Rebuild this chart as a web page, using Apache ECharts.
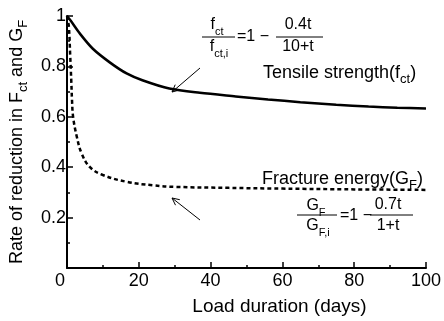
<!DOCTYPE html>
<html>
<head>
<meta charset="utf-8">
<script src="https://cdn.jsdelivr.net/npm/echarts@6/dist/echarts.min.js"></script>
<style>
  html, body { margin: 0; padding: 0; background: #fff; }
  #chart { width: 444px; height: 321px; }
</style>
</head>
<body>
<div id="chart"></div>
<script>
// values
const tensileDays = [0, 1, 3.6, 7.2, 12, 16.6, 21, 28.5, 37, 47, 56, 65, 75, 84, 92, 100]
const tensileRate = [1, 0.982, 0.93, 0.87, 0.815, 0.772, 0.745, 0.712, 0.695, 0.681, 0.669, 0.658, 0.648, 0.641, 0.636, 0.633]
const fractureDays = [0, 0.5, 0.9, 1.2, 1.4, 1.7, 2.7, 4.1, 6.4, 10, 16.6, 24, 30, 45, 60, 80, 100]
const fractureRate = [1, 0.96, 0.84, 0.74, 0.665, 0.6, 0.523, 0.454, 0.4, 0.369, 0.342, 0.328, 0.322, 0.318, 0.315, 0.312, 0.31]

const FONT = 'Liberation Sans'

function pairs (xs, ys) {
  return xs.map((x, i) => [x, ys[i]])
}

// base text + lowered subscript
function richStyle (size) {
  return {
    b: { fontSize: size, fontFamily: FONT, color: '#000', lineHeight: size + 4, verticalAlign: 'top' },
    s: { fontSize: size - 5, fontFamily: FONT, color: '#000', lineHeight: size - 5, verticalAlign: 'bottom' }
  }
}

function txt (text, x, y, align, size) {
  size = size || 16
  return {
    type: 'text',
    x: x,
    y: y,
    style: {
      text: text,
      fill: '#000',
      font: size + 'px ' + FONT,
      align: align || 'center',
      verticalAlign: 'middle',
      rich: richStyle(size)
    }
  }
}

function bar (x1, x2, y) {
  return { type: 'line', shape: { x1: x1, y1: y, x2: x2, y2: y }, style: { stroke: '#000', lineWidth: 1 } }
}

function arrow (x1, y1, x2, y2) {
  const a = Math.atan2(y1 - y2, x1 - x2)
  const len = 8
  const spread = 0.45
  return [
    { type: 'line', shape: { x1: x1, y1: y1, x2: x2, y2: y2 }, style: { stroke: '#000', lineWidth: 1 } },
    {
      type: 'polyline',
      shape: {
        points: [
          [x2 + len * Math.cos(a + spread), y2 + len * Math.sin(a + spread)],
          [x2, y2],
          [x2 + len * Math.cos(a - spread), y2 + len * Math.sin(a - spread)]
        ]
      },
      style: { stroke: '#000', lineWidth: 1, fill: null }
    }
  ]
}

const chart = echarts.init(document.getElementById('chart'))
const option = {
  animation: false,
  backgroundColor: '#fff',
  grid: {
    left: 67,
    right: 16,
    top: 16,
    bottom: 45
  },
  xAxis: {
    type: 'value',
    min: 0,
    max: 100,
    interval: 20,
    name: 'Load duration (days)',
    nameLocation: 'middle',
    nameGap: 29,
    nameTextStyle: { fontSize: 19, fontFamily: FONT, color: '#000', padding: [0, 0, 0, 66] },
    axisLine: { lineStyle: { color: '#000', width: 2 } },
    axisTick: { inside: true, length: 6, lineStyle: { color: '#000', width: 1.5 } },
    minorTick: { show: true, splitNumber: 2, length: 3, lineStyle: { color: '#000', width: 1.5 } },
    axisLabel: {
      fontSize: 18,
      fontFamily: FONT,
      color: '#000',
      margin: 4,
      formatter: v => (v === 0 ? '{z|0}' : String(v)),
      rich: { z: { fontSize: 18, fontFamily: FONT, color: '#000', padding: [0, 14, 0, 0] } }
    },
    splitLine: { show: false }
  },
  yAxis: {
    type: 'value',
    min: 0,
    max: 1,
    interval: 0.2,
    name: '{b|Rate of reduction in F}{s|ct}{b| and G}{s|F}',
    nameLocation: 'middle',
    nameGap: 34,
    nameTextStyle: {
      fontSize: 18,
      fontFamily: FONT,
      color: '#000',
      rich: richStyle(18)
    },
    axisLine: { lineStyle: { color: '#000', width: 2 } },
    axisTick: { inside: true, length: 6, lineStyle: { color: '#000', width: 1.5 } },
    minorTick: { show: true, splitNumber: 2, length: 3, lineStyle: { color: '#000', width: 1.5 } },
    axisLabel: {
      fontSize: 18,
      fontFamily: FONT,
      color: '#000',
      margin: 1,
      formatter: v => (v === 0 ? '' : String(Math.round(v * 10) / 10))
    },
    splitLine: { show: false }
  },
  series: [
    {
      name: 'Tensile strength',
      type: 'line',
      smooth: 0.3,
      symbol: 'none',
      lineStyle: { color: '#000', width: 2.5 },
      data: pairs(tensileDays, tensileRate)
    },
    {
      name: 'Fracture energy',
      type: 'line',
      smooth: 0.4,
      symbol: 'none',
      lineStyle: { color: '#000', width: 2.5, type: [4, 3] },
      data: pairs(fractureDays, fractureRate)
    }
  ],
  graphic: [
    // tensile strength formula
    txt('{b|f}{s|ct}', 217, 27),
    bar(202, 235, 37),
    txt('{b|f}{s|ct,i}', 219, 49),
    txt('{b|=1 −}', 237, 39, 'left'),
    txt('{b|0.4t}', 298, 27),
    bar(276, 323, 37),
    txt('{b|10+t}', 298, 49),
    ...arrow(200, 68, 172, 92),
    txt('{b|Tensile strength(f}{s|ct}{b|)}', 263, 75, 'left', 18),
    // fracture energy formula
    txt('{b|Fracture energy(G}{s|F}{b|)}', 262, 181, 'left', 18),
    txt('{b|G}{s|F}', 316, 208),
    bar(297, 337, 215),
    txt('{b|G}{s|F,i}', 318, 228),
    txt('{b|=1 −}', 340, 218, 'left'),
    txt('{b|0.7t}', 388, 207),
    bar(370, 413, 215),
    txt('{b|1+t}', 388, 228),
    ...arrow(200, 220, 172, 198)
  ]
}
chart.setOption(option)
</script>
</body>
</html>
